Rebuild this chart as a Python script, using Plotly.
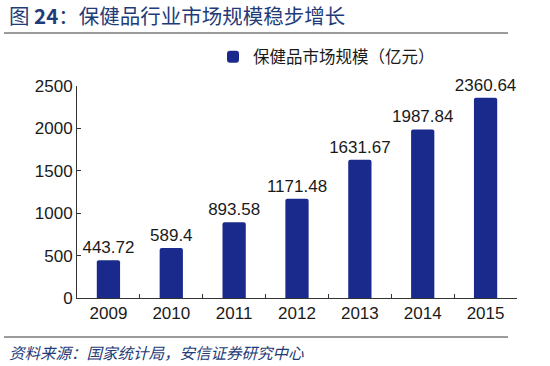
import plotly.graph_objects as go

years = ["2009", "2010", "2011", "2012", "2013", "2014", "2015"]
market_size = [443.72, 589.4, 893.58, 1171.48, 1631.67, 1987.84, 2360.64]
label_texts = ["443.72", "589.4", "893.58", "1171.48", "1631.67", "1987.84", "2360.64"]
series_name = "保健品市场规模（亿元）"
title_text = "图 <b>24</b>：保健品行业市场规模稳步增长"
source_text = "<i>资料来源：国家统计局，安信证券研究中心</i>"

W, H = 550, 366
L, R, T, B = 77, 33, 86, 68
pw, ph = W - L - R, H - T - B

def px(x):
    return (x - L) / pw

def py(y):
    return (H - B - y) / ph

fig = go.Figure()
fig.add_trace(go.Bar(
    x=years, y=market_size, name=series_name,
    marker=dict(color="#1A2A8C", cornerradius=2, line=dict(width=0)),
    text=label_texts, textposition="outside", cliponaxis=False,
    constraintext="none",
    textfont=dict(size=17, color="#1a1a1a", family="Liberation Sans, Arial"),
))

fig.update_layout(
    width=W, height=H,
    margin=dict(l=L, r=R, t=T, b=B, autoexpand=False),
    paper_bgcolor="white", plot_bgcolor="white",
    bargap=0.63,
    showlegend=True,
    legend=dict(x=px(213), y=py(57), xanchor="left", yanchor="middle",
                font=dict(size=16.5, color="#1a1a1a", family="Noto Sans CJK SC"),
                bgcolor="rgba(0,0,0,0)"),
    font=dict(family="Liberation Sans, Arial", size=17, color="#1a1a1a"),
    xaxis=dict(showline=True, linecolor="#333", linewidth=1, ticks="inside",
               tickson="boundaries", ticklen=4, tickcolor="#333",
               tickfont=dict(size=17), showgrid=False),
    yaxis=dict(range=[0, 2500], dtick=500, showline=True, linecolor="#333",
               linewidth=1, ticks="inside", ticklen=4, tickcolor="#333",
               tickfont=dict(size=17), showgrid=False, zeroline=False),
)

fig.add_annotation(text=title_text, xref="paper", yref="paper",
                   x=px(7), y=py(15), xanchor="left", yanchor="middle",
                   showarrow=False,
                   font=dict(size=20.5, color="#1F3C78", family="Noto Sans CJK SC"))
fig.add_annotation(text=source_text, xref="paper", yref="paper",
                   x=px(7), y=py(352), xanchor="left", yanchor="middle",
                   showarrow=False,
                   font=dict(size=15.5, color="#1F3C78", family="Noto Sans CJK SC"))

fig.add_shape(type="line", xref="paper", yref="paper",
              x0=px(4), x1=px(508), y0=py(33), y1=py(33),
              line=dict(color="#7a7a7a", width=1.5))
fig.add_shape(type="line", xref="paper", yref="paper",
              x0=px(4), x1=px(508), y0=py(337), y1=py(337),
              line=dict(color="#7a7a7a", width=1.5))

fig.write_html("out.html", config={"displayModeBar": False},
               post_script="document.body.style.margin='0';")
